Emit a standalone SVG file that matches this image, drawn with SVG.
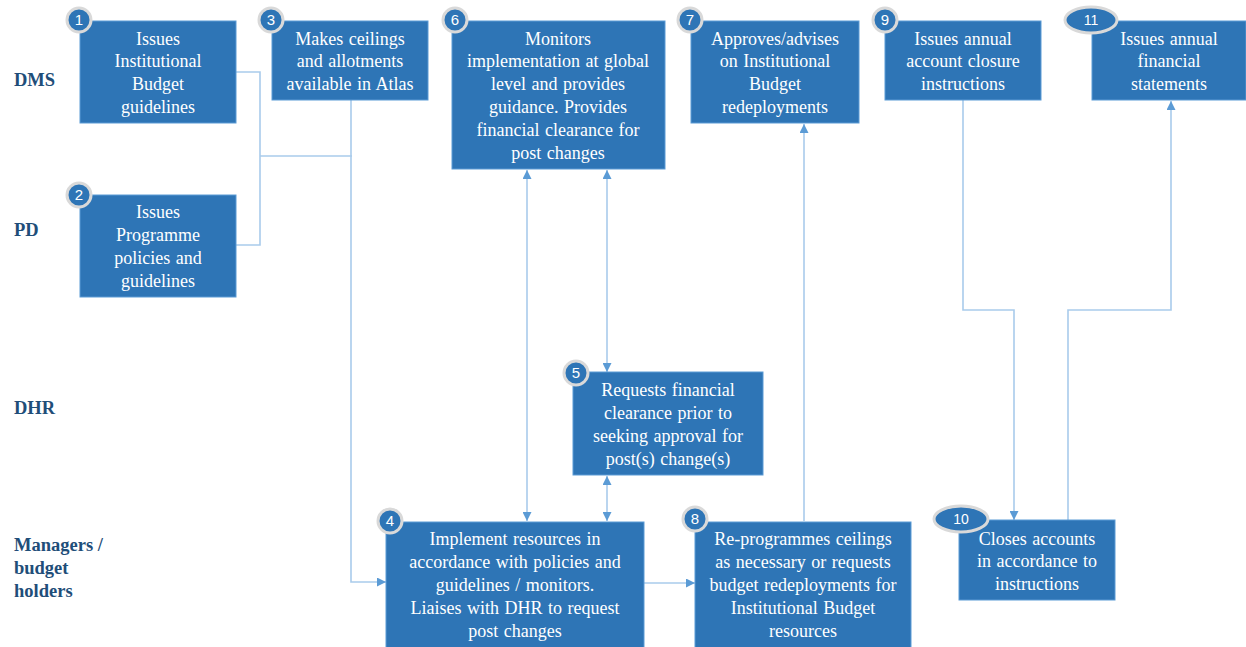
<svg xmlns="http://www.w3.org/2000/svg" width="1246" height="647" viewBox="0 0 1246 647">
  <style>
    .box { fill: #2e75b6; stroke: #5b9bd5; stroke-width: 1; }
    .txt { font-family: "Liberation Serif", "Times New Roman", serif; font-size: 18px; fill: #ffffff; text-anchor: middle; word-spacing: 1px; }
    .lane { font-family: "Liberation Serif", "Times New Roman", serif; font-size: 18.5px; font-weight: bold; fill: #1f4e79; }
    .badge { fill: #2e75b6; stroke: #d9d9d9; stroke-width: 3; }
    .num { font-family: "Liberation Sans", Arial, sans-serif; font-size: 15px; fill: #ffffff; text-anchor: middle; }
    .num-sm { font-family: "Liberation Sans", Arial, sans-serif; font-size: 14px; fill: #ffffff; text-anchor: middle; }
    .link { fill: none; stroke: #a9cbeb; stroke-width: 1.6; }
  </style>
  <defs>
    <marker id="arrow" viewBox="0 0 10 10" refX="10" refY="5" markerWidth="9" markerHeight="9" markerUnits="userSpaceOnUse" orient="auto-start-reverse">
      <path d="M0,0 L10,5 L0,10 z" fill="#5b9bd5"/>
    </marker>
  </defs>

  <rect width="1246" height="647" fill="#ffffff"/>

  <!-- swimlane labels -->
  <g id="lanes">
    <text class="lane" x="14" y="86">DMS</text>
    <text class="lane" x="14" y="236">PD</text>
    <text class="lane" x="14" y="414">DHR</text>
    <text class="lane" x="14" y="551">Managers /</text>
    <text class="lane" x="14" y="574">budget</text>
    <text class="lane" x="14" y="597">holders</text>
  </g>

  <!-- connectors -->
  <g id="connectors">
    <path class="link" d="M236,72 H260 V245 H236"/>
    <path class="link" d="M260,156 H352"/>
    <path class="link" d="M351,100 V582 H386" marker-end="url(#arrow)"/>
    <path class="link" d="M527,170 V521" marker-start="url(#arrow)" marker-end="url(#arrow)"/>
    <path class="link" d="M607,170 V372" marker-start="url(#arrow)" marker-end="url(#arrow)"/>
    <path class="link" d="M607,476 V521" marker-start="url(#arrow)" marker-end="url(#arrow)"/>
    <path class="link" d="M644,583 H695" marker-end="url(#arrow)"/>
    <path class="link" d="M804,521 V124" marker-end="url(#arrow)"/>
    <path class="link" d="M963,100 V310 H1014 V520" marker-end="url(#arrow)"/>
    <path class="link" d="M1068,520 V310 H1171 V101" marker-end="url(#arrow)"/>
  </g>

  <g id="node1">
    <rect class="box" x="80" y="21" width="156" height="102"/>
    <text class="txt" x="158" y="45">Issues</text>
    <text class="txt" x="158" y="67">Institutional</text>
    <text class="txt" x="158" y="90">Budget</text>
    <text class="txt" x="158" y="113">guidelines</text>
    <circle class="badge" cx="79" cy="20" r="12"/>
    <text class="num" x="79" y="25">1</text>
  </g>

  <g id="node2">
    <rect class="box" x="80" y="195" width="156" height="102"/>
    <text class="txt" x="158" y="218">Issues</text>
    <text class="txt" x="158" y="241">Programme</text>
    <text class="txt" x="158" y="264">policies and</text>
    <text class="txt" x="158" y="287">guidelines</text>
    <circle class="badge" cx="79" cy="195" r="12"/>
    <text class="num" x="79" y="200">2</text>
  </g>

  <g id="node3">
    <rect class="box" x="272" y="21" width="156" height="79"/>
    <text class="txt" x="350" y="45">Makes ceilings</text>
    <text class="txt" x="350" y="67">and allotments</text>
    <text class="txt" x="350" y="90">available  in Atlas</text>
    <circle class="badge" cx="271" cy="20" r="12"/>
    <text class="num" x="271" y="25">3</text>
  </g>

  <g id="node6">
    <rect class="box" x="452" y="21" width="213" height="148"/>
    <text class="txt" x="558" y="45">Monitors</text>
    <text class="txt" x="558" y="67">implementation at global</text>
    <text class="txt" x="558" y="90">level and provides</text>
    <text class="txt" x="558" y="113">guidance. Provides</text>
    <text class="txt" x="558" y="136">financial clearance for</text>
    <text class="txt" x="558" y="159">post changes</text>
    <circle class="badge" cx="455" cy="20" r="12"/>
    <text class="num" x="455" y="25">6</text>
  </g>

  <g id="node7">
    <rect class="box" x="691" y="21" width="168" height="102"/>
    <text class="txt" x="775" y="45">Approves/advises</text>
    <text class="txt" x="775" y="67">on Institutional</text>
    <text class="txt" x="775" y="90">Budget</text>
    <text class="txt" x="775" y="113">redeployments</text>
    <circle class="badge" cx="690" cy="20" r="12"/>
    <text class="num" x="690" y="25">7</text>
  </g>

  <g id="node9">
    <rect class="box" x="885" y="21" width="156" height="79"/>
    <text class="txt" x="963" y="45">Issues annual</text>
    <text class="txt" x="963" y="67">account closure</text>
    <text class="txt" x="963" y="90">instructions</text>
    <circle class="badge" cx="885" cy="20" r="12"/>
    <text class="num" x="885" y="25">9</text>
  </g>

  <g id="node11">
    <rect class="box" x="1092" y="21" width="154" height="79"/>
    <text class="txt" x="1169" y="45">Issues annual</text>
    <text class="txt" x="1169" y="67">financial</text>
    <text class="txt" x="1169" y="90">statements</text>
    <ellipse class="badge" cx="1091" cy="20" rx="26" ry="13"/>
    <text class="num-sm" x="1091" y="25">11</text>
  </g>

  <g id="node5">
    <rect class="box" x="573" y="372" width="190" height="103"/>
    <text class="txt" x="668" y="396">Requests financial</text>
    <text class="txt" x="668" y="419">clearance prior to</text>
    <text class="txt" x="668" y="442">seeking approval for</text>
    <text class="txt" x="668" y="465">post(s) change(s)</text>
    <circle class="badge" cx="576" cy="373" r="12"/>
    <text class="num" x="576" y="378">5</text>
  </g>

  <g id="node4">
    <rect class="box" x="386" y="522" width="258" height="126"/>
    <text class="txt" x="515" y="545">Implement resources in</text>
    <text class="txt" x="515" y="568">accordance with policies and</text>
    <text class="txt" x="515" y="591">guidelines / monitors.</text>
    <text class="txt" x="515" y="614">Liaises with DHR to request</text>
    <text class="txt" x="515" y="637">post changes</text>
    <circle class="badge" cx="390" cy="521" r="12"/>
    <text class="num" x="390" y="526">4</text>
  </g>

  <g id="node8">
    <rect class="box" x="695" y="522" width="216" height="126"/>
    <text class="txt" x="803" y="545">Re-programmes ceilings</text>
    <text class="txt" x="803" y="568">as necessary  or requests</text>
    <text class="txt" x="803" y="591">budget redeployments for</text>
    <text class="txt" x="803" y="614">Institutional Budget</text>
    <text class="txt" x="803" y="637">resources</text>
    <circle class="badge" cx="695" cy="519" r="12"/>
    <text class="num" x="695" y="524">8</text>
  </g>

  <g id="node10">
    <rect class="box" x="959" y="520" width="156" height="80"/>
    <text class="txt" x="1037" y="545">Closes accounts</text>
    <text class="txt" x="1037" y="567">in accordance  to</text>
    <text class="txt" x="1037" y="590">instructions</text>
    <ellipse class="badge" cx="961" cy="519" rx="27" ry="13"/>
    <text class="num-sm" x="961" y="524">10</text>
  </g>
</svg>
